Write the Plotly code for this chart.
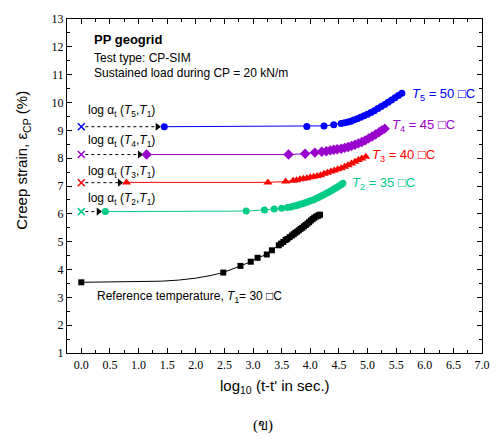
import plotly.graph_objects as go

# ---------------- data ----------------
# Reference temperature T1 = 30 C (black squares)
t1_line_x = [0.0, 0.5, 1.0, 1.4, 1.7, 2.0, 2.25]
t1_line_y = [3.54, 3.55, 3.56, 3.58, 3.62, 3.69, 3.78]
t1_x = [0.0, 2.48, 2.78, 2.96, 3.08, 3.24, 3.33, 3.45, 3.49, 3.53, 3.57, 3.60, 3.64,
        3.68, 3.71, 3.74, 3.77, 3.80, 3.83, 3.86, 3.89, 3.92, 3.95, 3.98, 4.01, 4.04,
        4.07, 4.10, 4.13, 4.15, 4.17]
t1_y = [3.54, 3.89, 4.13, 4.28, 4.42, 4.54, 4.69, 4.87, 4.93, 4.99, 5.06, 5.10, 5.16,
        5.22, 5.27, 5.32, 5.36, 5.41, 5.46, 5.50, 5.55, 5.60, 5.65, 5.70, 5.76, 5.81,
        5.86, 5.90, 5.93, 5.95, 5.97]

# T2 = 35 C (green circles), shifted
t2_x = [0.42, 2.88, 3.20, 3.37, 3.50, 3.60, 3.66, 3.70, 3.74, 3.78, 3.82, 3.86, 3.90,
        3.94, 3.98, 4.02, 4.06, 4.10, 4.14, 4.18, 4.22, 4.26, 4.30, 4.34, 4.38, 4.42,
        4.46, 4.50, 4.54, 4.57]
t2_y = [6.08, 6.10, 6.14, 6.17, 6.20, 6.23, 6.25, 6.27, 6.29, 6.31, 6.34, 6.36, 6.39,
        6.42, 6.45, 6.48, 6.51, 6.55, 6.59, 6.63, 6.67, 6.71, 6.76, 6.80, 6.85, 6.90,
        6.95, 7.00, 7.05, 7.10]

# T3 = 40 C (red triangles), shifted
t3_x = [0.79, 3.26, 3.57, 3.70, 3.76, 3.82, 3.88, 3.94, 4.00, 4.06, 4.12, 4.18, 4.24,
        4.30, 4.36, 4.42, 4.48, 4.54, 4.60, 4.66, 4.72, 4.78, 4.84, 4.90, 4.97]
t3_y = [7.13, 7.13, 7.16, 7.19, 7.21, 7.24, 7.26, 7.28, 7.31, 7.33, 7.36, 7.39, 7.44,
        7.48, 7.52, 7.56, 7.60, 7.64, 7.69, 7.75, 7.81, 7.87, 7.93, 7.99, 8.05]

# T4 = 45 C (purple diamonds), shifted
t4_x = [1.14, 3.62, 3.91, 4.08, 4.20, 4.28, 4.35, 4.41, 4.47, 4.54, 4.60, 4.66, 4.72,
        4.78, 4.84, 4.90, 4.96, 5.02, 5.08, 5.14, 5.20, 5.25, 5.30]
t4_y = [8.13, 8.13, 8.16, 8.20, 8.23, 8.25, 8.28, 8.30, 8.32, 8.34, 8.37, 8.40, 8.44,
        8.48, 8.53, 8.58, 8.64, 8.71, 8.78, 8.85, 8.93, 9.00, 9.06]

# T5 = 50 C (blue circles), shifted
t5_x = [1.45, 3.94, 4.24, 4.41, 4.54, 4.60, 4.66, 4.71, 4.76, 4.82, 4.88, 4.94, 5.00,
        5.06, 5.12, 5.18, 5.24, 5.30, 5.36, 5.42, 5.48, 5.54, 5.60]
t5_y = [9.13, 9.14, 9.16, 9.20, 9.25, 9.27, 9.30, 9.33, 9.37, 9.42, 9.47, 9.52, 9.58,
        9.64, 9.70, 9.78, 9.86, 9.93, 10.01, 10.09, 10.17, 10.25, 10.33]

# shift origins (the "x" marks at log t = 0)
origin_x = [0.0, 0.0, 0.0, 0.0]
origin_y = [6.08, 7.12, 8.13, 9.13]

colors = ["#00CC88", "#FF0000", "#9900CC", "#0000FF"]
symbols = ["circle", "triangle-up", "diamond", "circle"]
sizes = [7, 8, 8, 7]
temps = ["2", "3", "4", "5"]
temp_vals = ["35", "40", "45", "50"]
end_label_x = [4.70, 5.04, 5.40, 5.74]
end_label_y = [7.08, 8.10, 9.16, 10.28]
shift_label_y = [6.52, 7.52, 8.61, 9.69]

series_x = [t2_x, t3_x, t4_x, t5_x]
series_y = [t2_y, t3_y, t4_y, t5_y]

fig = go.Figure()

# reference curve: thin line through all points, markers on the measured points
fig.add_trace(go.Scatter(x=t1_line_x + t1_x[1:], y=t1_line_y + t1_y[1:], mode="lines",
                         line=dict(color="black", width=1), showlegend=False))
fig.add_trace(go.Scatter(x=t1_x, y=t1_y, mode="markers",
                         marker=dict(symbol="square", size=6, color="black"),
                         showlegend=False))

for i in range(4):
    sx, sy = series_x[i], series_y[i]
    # dotted shift arrow
    tip = sx[0] - 0.07
    fig.add_trace(go.Scatter(x=[origin_x[i] + 0.07, tip - 0.05], y=[origin_y[i], origin_y[i]],
                             mode="lines", line=dict(color="black", width=1, dash="dot"),
                             showlegend=False))
    fig.add_trace(go.Scatter(x=[tip - 0.05], y=[origin_y[i]], mode="markers",
                             marker=dict(symbol="triangle-right", size=7, color="black"),
                             showlegend=False))
    # origin x mark
    fig.add_trace(go.Scatter(x=[origin_x[i]], y=[origin_y[i]], mode="markers",
                             marker=dict(symbol="x-thin", size=7, color=colors[i],
                                         line=dict(color=colors[i], width=1.5)),
                             showlegend=False))
    # shifted curve
    fig.add_trace(go.Scatter(x=sx, y=sy, mode="lines+markers",
                             line=dict(color=colors[i], width=1),
                             marker=dict(symbol=symbols[i], size=sizes[i], color=colors[i]),
                             showlegend=False))

annotations = []
sans = "Liberation Sans, Arial, sans-serif"
for i in range(4):
    annotations.append(dict(
        x=end_label_x[i], y=end_label_y[i], xref="x", yref="y", xanchor="left", yanchor="middle",
        text=f"<i>T</i><sub>{temps[i]}</sub> = {temp_vals[i]} \u25a1C", showarrow=False,
        font=dict(family=sans, size=13, color=colors[i])))
    annotations.append(dict(
        x=0.08, y=shift_label_y[i], xref="x", yref="y", xanchor="left", yanchor="middle",
        text=f"log \u03b1<sub>t</sub> (<i>T</i><sub>{temps[i]}</sub>,<i>T</i><sub>1</sub>)",
        showarrow=False, font=dict(family=sans, size=12, color="black")))

annotations += [
    dict(x=0.19, y=12.28, xref="x", yref="y", xanchor="left", yanchor="middle",
         text="<b>PP geogrid</b>", showarrow=False, font=dict(family=sans, size=13, color="black")),
    dict(x=0.19, y=11.6, xref="x", yref="y", xanchor="left", yanchor="middle",
         text="Test type: CP-SIM", showarrow=False, font=dict(family=sans, size=12, color="black")),
    dict(x=0.19, y=11.05, xref="x", yref="y", xanchor="left", yanchor="middle",
         text="Sustained load during CP = 20 kN/m", showarrow=False,
         font=dict(family=sans, size=12, color="black")),
    dict(x=0.24, y=3.02, xref="x", yref="y", xanchor="left", yanchor="middle",
         text="Reference temperature, <i>T</i><sub>1</sub>= 30 \u25a1C", showarrow=False,
         font=dict(family=sans, size=12, color="black")),
    dict(x=0.5, y=-0.10, xref="paper", yref="paper", xanchor="center", yanchor="middle",
         text="log<sub>10</sub> (t-t' in sec.)", showarrow=False,
         font=dict(family=sans, size=15, color="black")),
    dict(x=-0.106, y=0.576, xref="paper", yref="paper", xanchor="center", yanchor="middle",
         text="Creep strain, \u03b5<sub>CP</sub> (%)", showarrow=False, textangle=-90,
         font=dict(family=sans, size=15, color="black")),
    dict(x=0.473, y=-0.218, xref="paper", yref="paper", xanchor="center", yanchor="middle",
         text="(\u0e02)", showarrow=False,
         font=dict(family="Liberation Serif, DejaVu Serif, serif", size=15, color="black")),
]

serif = "Liberation Serif, Times New Roman, serif"
fig.update_layout(
    width=502, height=439,
    margin=dict(l=67, r=12, t=13, b=86),
    plot_bgcolor="white", paper_bgcolor="white",
    annotations=annotations,
    xaxis=dict(range=[-0.25, 7.0], tick0=0, dtick=0.5, tickformat=".1f",
               ticks="inside", ticklen=5, tickcolor="black", mirror="ticks",
               showline=True, linecolor="black", linewidth=1.2, showgrid=False, zeroline=False,
               minor=dict(ticks="inside", ticklen=3, dtick=0.25, tick0=0, tickcolor="black"),
               tickfont=dict(family=serif, size=12, color="black")),
    yaxis=dict(range=[1, 13], tick0=1, dtick=1,
               ticks="inside", ticklen=5, tickcolor="black", mirror="ticks",
               showline=True, linecolor="black", linewidth=1.2, showgrid=False, zeroline=False,
               minor=dict(ticks="inside", ticklen=3, dtick=0.5, tick0=1, tickcolor="black"),
               tickfont=dict(family=serif, size=12, color="black")),
)

fig.write_html("out.html")
